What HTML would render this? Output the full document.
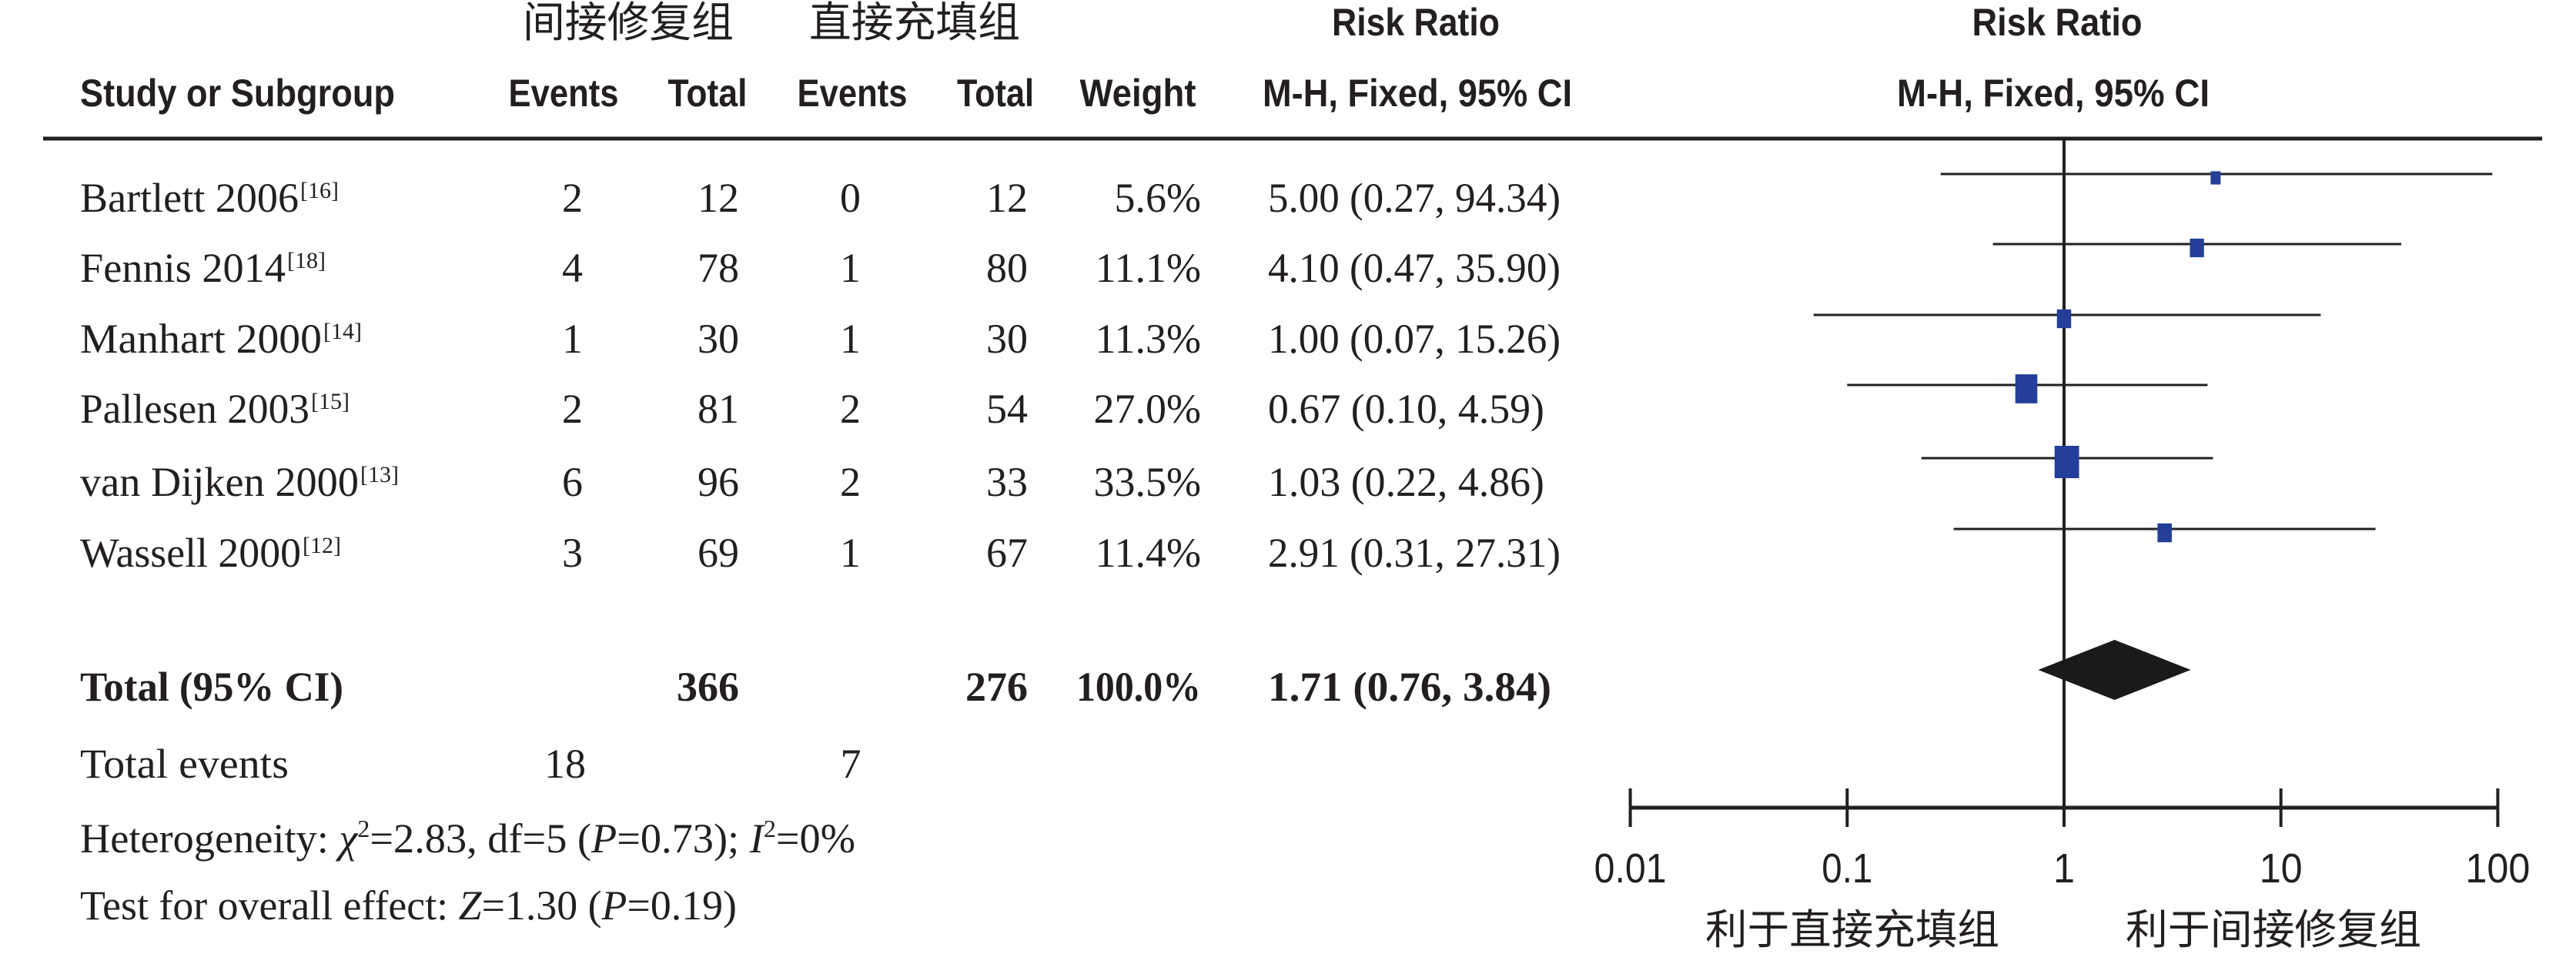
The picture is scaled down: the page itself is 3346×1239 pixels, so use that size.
<!DOCTYPE html>
<html><head><meta charset="utf-8"><style>
html,body{margin:0;padding:0;background:#fff;}
svg{display:block;}
.serif{font-family:"Liberation Serif","Noto Serif CJK SC",serif;fill:#231f20;}
.sans{font-family:"Liberation Sans","Noto Sans CJK SC",sans-serif;fill:#231f20;}
</style></head><body>
<svg id="fp" width="3346" height="1239" viewBox="0 0 3346 1239" xmlns="http://www.w3.org/2000/svg">
<g>
<text class="sans" x="816" y="48" font-size="55" text-anchor="middle" textLength="274" lengthAdjust="spacingAndGlyphs">间接修复组</text>
<text class="sans" x="1188" y="48" font-size="55" text-anchor="middle" textLength="274" lengthAdjust="spacingAndGlyphs">直接充填组</text>
<text class="sans" x="1839" y="46" font-size="50" font-weight="bold" text-anchor="middle" textLength="218" lengthAdjust="spacingAndGlyphs">Risk Ratio</text>
<text class="sans" x="2672" y="46" font-size="50" font-weight="bold" text-anchor="middle" textLength="221" lengthAdjust="spacingAndGlyphs">Risk Ratio</text>
<text class="sans" x="104" y="138" font-size="50" font-weight="bold" textLength="409" lengthAdjust="spacingAndGlyphs">Study or Subgroup</text>
<text class="sans" x="732" y="138" font-size="50" font-weight="bold" text-anchor="middle" textLength="143" lengthAdjust="spacingAndGlyphs">Events</text>
<text class="sans" x="919" y="138" font-size="50" font-weight="bold" text-anchor="middle" textLength="103" lengthAdjust="spacingAndGlyphs">Total</text>
<text class="sans" x="1107" y="138" font-size="50" font-weight="bold" text-anchor="middle" textLength="143" lengthAdjust="spacingAndGlyphs">Events</text>
<text class="sans" x="1293" y="138" font-size="50" font-weight="bold" text-anchor="middle" textLength="100" lengthAdjust="spacingAndGlyphs">Total</text>
<text class="sans" x="1478" y="138" font-size="50" font-weight="bold" text-anchor="middle" textLength="151" lengthAdjust="spacingAndGlyphs">Weight</text>
<text class="sans" x="1841" y="138" font-size="50" font-weight="bold" text-anchor="middle" textLength="402" lengthAdjust="spacingAndGlyphs">M-H, Fixed, 95% CI</text>
<text class="sans" x="2667" y="138" font-size="50" font-weight="bold" text-anchor="middle" textLength="406" lengthAdjust="spacingAndGlyphs">M-H, Fixed, 95% CI</text>
<line x1="56" y1="180" x2="3302" y2="180" stroke="#231f20" stroke-width="5"/>
</g>
<g id="rows"></g>
<g>
<text class="serif" x="104" y="910" font-size="54" font-weight="bold" textLength="342" lengthAdjust="spacingAndGlyphs">Total (95% CI)</text>
<text class="serif" x="960" y="910" font-size="54" font-weight="bold" text-anchor="end">366</text>
<text class="serif" x="1335" y="910" font-size="54" font-weight="bold" text-anchor="end">276</text>
<text class="serif" x="1560" y="910" font-size="54" font-weight="bold" text-anchor="end" textLength="162" lengthAdjust="spacingAndGlyphs">100.0%</text>
<text class="serif" x="1647" y="910" font-size="54" font-weight="bold" textLength="368" lengthAdjust="spacingAndGlyphs">1.71 (0.76, 3.84)</text>
<text class="serif" x="104" y="1010" font-size="54" textLength="271" lengthAdjust="spacingAndGlyphs">Total events</text>
<text class="serif" x="734" y="1010" font-size="54" text-anchor="middle">18</text>
<text class="serif" x="1105" y="1010" font-size="54" text-anchor="middle">7</text>
<text class="serif" x="104" y="1107" font-size="54" textLength="1007" lengthAdjust="spacingAndGlyphs">Heterogeneity: <tspan font-style="italic">χ</tspan><tspan font-size="32" dy="-20">2</tspan><tspan dy="20">=2.83, df=5 (</tspan><tspan font-style="italic">P</tspan>=0.73); <tspan font-style="italic">I</tspan><tspan font-size="32" dy="-20">2</tspan><tspan dy="20">=0%</tspan></text>
<text class="serif" x="104" y="1194" font-size="54" textLength="853" lengthAdjust="spacingAndGlyphs">Test for overall effect: <tspan font-style="italic">Z</tspan>=1.30 (<tspan font-style="italic">P</tspan>=0.19)</text>
</g>
<g id="plot"></g>
</svg>
<script>
const studies = ["Bartlett 2006","Fennis 2014","Manhart 2000","Pallesen 2003","van Dijken 2000","Wassell 2000"];
const refs = ["[16]","[18]","[14]","[15]","[13]","[12]"];
const events1 = [2,4,1,2,6,3];
const total1 = [12,78,30,81,96,69];
const events2 = [0,1,1,2,2,1];
const total2 = [12,80,30,54,33,67];
const weights = [5.6,11.1,11.3,27.0,33.5,11.4];
const rr = [5.00,4.10,1.00,0.67,1.03,2.91];
const ciLow = [0.27,0.47,0.07,0.10,0.22,0.31];
const ciHigh = [94.34,35.90,15.26,4.59,4.86,27.31];
const pooled = [1.71,0.76,3.84];
const tickValues = [0.01,0.1,1,10,100];
const tickLabels = ["0.01","0.1","1","10","100"];
const nameWidths = [284,267,314,298,362,287];

const NS = "http://www.w3.org/2000/svg";
const X0 = 2681, DEC = 281.7;
function xScale(v){ return X0 + Math.log10(v)*DEC; }
const rowCenterY = [258,349,441,532,627,719];
function lineY(i){ return rowCenterY[i] - 32; }
function mk(tag, attrs, parent){ const e=document.createElementNS(NS,tag); for(const k in attrs) e.setAttribute(k,attrs[k]); parent.appendChild(e); return e; }
function fmt(v){ return v.toFixed(2); }

const rowsG = document.getElementById('rows');
studies.forEach((s,i)=>{
  const y = rowCenterY[i] + 17;
  const g = mk('g',{},rowsG);
  
  
  const nm = mk('text',{class:'serif',x:104,y:y,'font-size':54,textLength:nameWidths[i],lengthAdjust:'spacingAndGlyphs'},g);
  nm.textContent = s;
  
  
  const sp = mk('text',{class:'serif',x:104+nameWidths[i]+2,y:y-18,'font-size':30,textLength:50,lengthAdjust:'spacingAndGlyphs'},g);
  sp.textContent = refs[i];
  
  
  const cols = [[757,events1[i],'events-1'],[960,total1[i],'total-1'],[1118,events2[i],'events-2'],[1335,total2[i],'total-2'],[1560,weights[i].toFixed(1)+'%','weight']];
  cols.forEach(c=>{
    const t = mk('text',{class:'serif',x:c[0],y:y,'font-size':54,'text-anchor':'end'},g);
    t.textContent = c[1];
    
    
  });
  const ciStr = fmt(rr[i])+' ('+fmt(ciLow[i])+', '+fmt(ciHigh[i])+')';
  const ct = mk('text',{class:'serif',x:1647,y:y,'font-size':54,textLength:(21.1*ciStr.length).toFixed(0),lengthAdjust:'spacingAndGlyphs'},g);
  ct.textContent = ciStr;
  
  
});

const plot = document.getElementById('plot');
// vertical reference line
const vl = mk('line',{x1:xScale(1),y1:180,x2:xScale(1),y2:1049,stroke:'#231f20','stroke-width':4},plot);


// CI lines and boxes
studies.forEach((s,i)=>{
  const ly = lineY(i);
  const l = mk('line',{x1:xScale(ciLow[i]),y1:ly,x2:xScale(ciHigh[i]),y2:ly,stroke:'#231f20','stroke-width':3},plot);
  
  
  const w = 5.5*Math.sqrt(weights[i]);
  const h = w*1.32;
  const r = mk('rect',{x:xScale(rr[i])-w/2,y:ly+5-h/2,width:w,height:h,fill:'#233f99'},plot);
  
  
});
// pooled diamond
const dy = 870, dh = 39;
const d = mk('polygon',{points:[xScale(pooled[1])+','+dy, xScale(pooled[0])+','+(dy-dh), xScale(pooled[2])+','+dy, xScale(pooled[0])+','+(dy+dh)].join(' '),fill:'#1a1a1a'},plot);


// axis
const ax = mk('line',{x1:xScale(tickValues[0]),y1:1049,x2:xScale(tickValues[tickValues.length-1]),y2:1049,stroke:'#231f20','stroke-width':5},plot);


tickValues.forEach((v,i)=>{
  const t = mk('line',{x1:xScale(v),y1:1024,x2:xScale(v),y2:1074,stroke:'#231f20','stroke-width':4},plot);
  
  
  const lb = mk('text',{class:'sans',x:xScale(v),y:1146,'font-size':54,'text-anchor':'middle',textLength:(28*tickLabels[i].replace('.','').length+10*(tickLabels[i].includes('.')?1:0)),lengthAdjust:'spacingAndGlyphs'},plot);
  lb.textContent = tickLabels[i];
  
  
});
const fl = mk('text',{class:'sans',x:2406,y:1226,'font-size':54,'text-anchor':'middle',textLength:382,lengthAdjust:'spacingAndGlyphs'},plot);
fl.textContent = '利于直接充填组';


const fr = mk('text',{class:'sans',x:2953,y:1226,'font-size':54,'text-anchor':'middle',textLength:384,lengthAdjust:'spacingAndGlyphs'},plot);
fr.textContent = '利于间接修复组';


</script>
</body></html>
